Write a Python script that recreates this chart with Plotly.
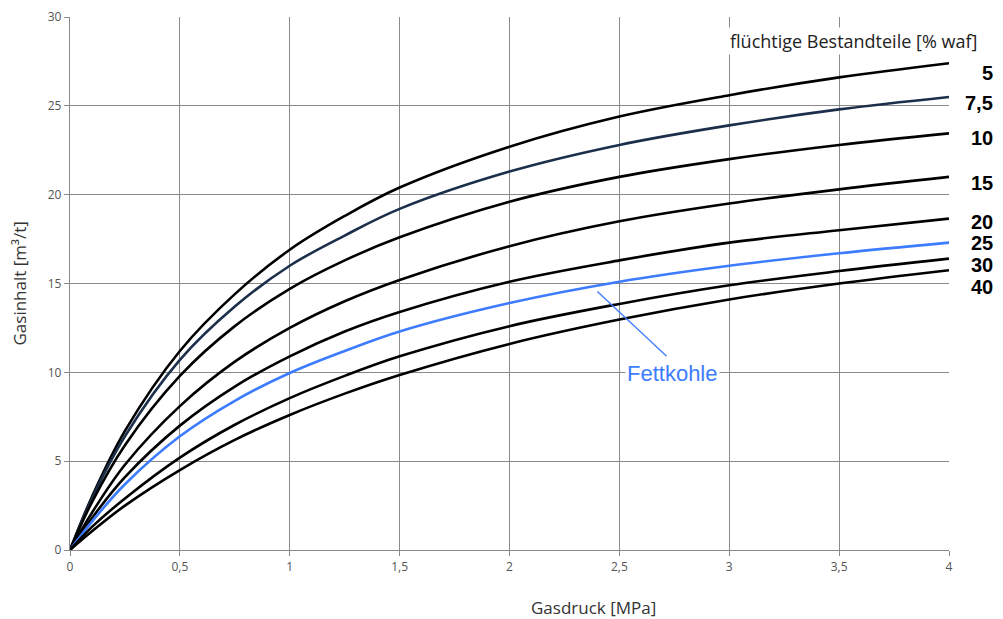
import plotly.graph_objects as go

# Gas pressure [MPa]
pressure = [0, 0.1, 0.25, 0.5, 0.75, 1.0, 1.25, 1.5, 2.0, 2.5, 3.0, 3.5, 4.0]

# Gas content [m3/t] per volatile-matter class (% waf)
v5 = [0, 3.0, 6.7, 11.2, 14.4, 16.9, 18.8, 20.4, 22.7, 24.4, 25.6, 26.6, 27.4]
v7_5 = [0, 2.9, 6.4, 10.7, 13.7, 16.0, 17.7, 19.2, 21.3, 22.8, 23.9, 24.8, 25.5]
v10 = [0, 2.7, 5.9, 9.8, 12.6, 14.7, 16.3, 17.6, 19.6, 21.0, 22.0, 22.8, 23.45]
v15 = [0, 2.1, 4.8, 8.1, 10.6, 12.5, 14.0, 15.2, 17.1, 18.5, 19.5, 20.3, 21.0]
v20 = [0, 1.8, 4.1, 7.0, 9.2, 10.9, 12.3, 13.4, 15.1, 16.3, 17.3, 18.0, 18.65]
v25 = [0, 1.6, 3.7, 6.4, 8.4, 9.96, 11.2, 12.3, 13.9, 15.1, 16.0, 16.7, 17.3]
v30 = [0, 1.3, 2.9, 5.2, 7.05, 8.55, 9.8, 10.9, 12.6, 13.85, 14.9, 15.7, 16.4]
v40 = [0, 1.05, 2.5, 4.5, 6.2, 7.6, 8.8, 9.85, 11.6, 12.97, 14.1, 15.0, 15.75]

series_labels = ["5", "7,5", "10", "15", "20", "25", "30", "40"]
series_values = [v5, v7_5, v10, v15, v20, v25, v30, v40]
series_colors = ["#000000", "#1c2f4a", "#000000", "#000000", "#000000",
                 "#3d7cff", "#000000", "#000000"]
# label y positions (screen pixels from top) beside the plot
label_px = [73, 103, 138, 183, 222, 243, 265, 287]

x_ticks = [0, 0.5, 1, 1.5, 2, 2.5, 3, 3.5, 4]
y_ticks = [0, 5, 10, 15, 20, 25, 30]

# page body has an 8px margin; compensate so the plot lands where the reference has it
OFF = 8
W, H = 1003 - OFF, 619 - OFF
PX0, PX1, PY0, PY1 = 70, 949, 17, 550  # plot area in screen pixels
L, T = PX0 - OFF, PY0 - OFF
R, B = W - (PX1 - OFF), H - (PY1 - OFF)
pw, ph = PX1 - PX0, PY1 - PY0


def px_x(sx):
    return (sx - PX0) / pw


def px_y(sy):
    return (PY1 - sy) / ph


fig = go.Figure()
for lab, vals, col in zip(series_labels, series_values, series_colors):
    fig.add_trace(go.Scatter(
        x=pressure, y=vals, mode="lines", name=lab,
        line=dict(color=col, width=2.6, shape="spline", smoothing=1.0),
        hoverinfo="skip", showlegend=False,
    ))

annotations = []
for lab, py in zip(series_labels, label_px):
    annotations.append(dict(
        x=px_x(995), y=px_y(py), xref="paper", yref="paper",
        text="<b>" + lab + "</b>", showarrow=False, xanchor="right", yanchor="middle",
        font=dict(family="Arial, Liberation Sans", size=20, color="#000000"),
    ))

annotations.append(dict(
    x=px_x(979), y=px_y(41), xref="paper", yref="paper",
    text="flüchtige Bestandteile [% waf]", showarrow=False,
    xanchor="right", yanchor="middle", bgcolor="#ffffff",
    font=dict(family="Open Sans", size=18, color="#222222"),
))
annotations.append(dict(
    x=2.74, y=9.95, xref="x", yref="y", text="Fettkohle", showarrow=False,
    xanchor="center", yanchor="middle", bgcolor="#ffffff",
    font=dict(family="Arial, Liberation Sans", size=22, color="#3d7cff"),
))
annotations.append(dict(
    x=px_x(593), y=px_y(607), xref="paper", yref="paper",
    text="Gasdruck [MPa]", showarrow=False, xanchor="center", yanchor="middle",
    font=dict(family="Open Sans", size=17, color="#333333"),
))
annotations.append(dict(
    x=px_x(19), y=0.5, xref="paper", yref="paper",
    text="Gasinhalt [m³/t]", showarrow=False, textangle=-90,
    xanchor="center", yanchor="middle",
    font=dict(family="Open Sans", size=17, color="#333333"),
))

fig.add_shape(type="line", xref="x", yref="y", x0=2.4, y0=14.55, x1=2.715, y1=10.9,
              line=dict(color="#3d7cff", width=1.3))

grid = "#8a8a8a"
axis_common = dict(showgrid=True, gridcolor=grid, gridwidth=1.4, zeroline=False,
                   showline=True, linecolor=grid, linewidth=1.4, ticks="outside",
                   ticklen=5, tickcolor=grid, tickwidth=1.4, automargin=False,
                   tickfont=dict(family="Open Sans", size=12, color="#555555"))
fig.update_layout(
    width=W, height=H,
    margin=dict(l=L, r=R, t=T, b=B, autoexpand=False),
    paper_bgcolor="#ffffff", plot_bgcolor="#ffffff",
    separators=",.",
    annotations=annotations,
    xaxis=dict(range=[0, 4], tickvals=x_ticks, **axis_common),
    yaxis=dict(range=[0, 30], tickvals=y_ticks, **axis_common),
)

fig.write_html("out.html")
